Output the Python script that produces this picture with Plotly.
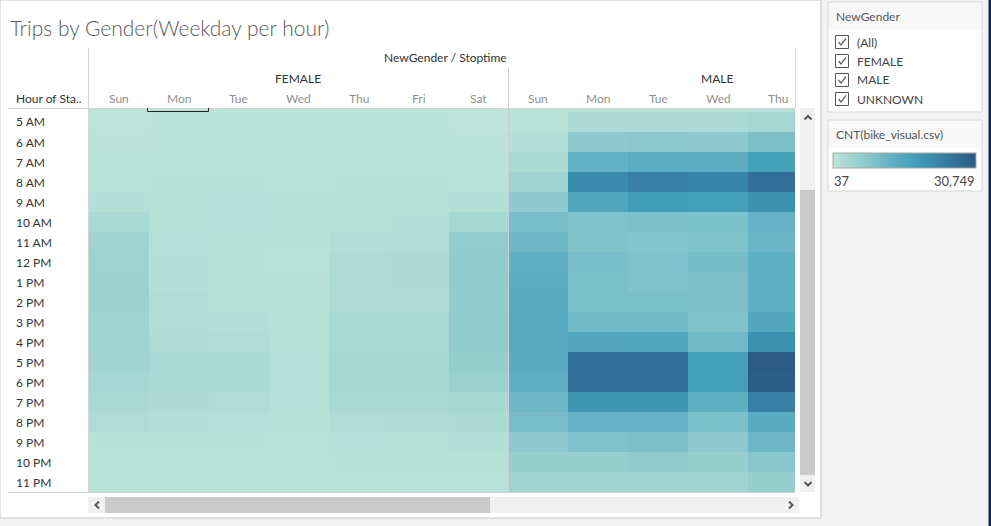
import plotly.graph_objects as go

W, H = 991, 526

hours = ["4 AM", "5 AM", "6 AM", "7 AM", "8 AM", "9 AM", "10 AM", "11 AM", "12 PM",
         "1 PM", "2 PM", "3 PM", "4 PM", "5 PM", "6 PM", "7 PM", "8 PM", "9 PM",
         "10 PM", "11 PM"]
female_days = ["Sun", "Mon", "Tue", "Wed", "Thu", "Fri", "Sat"]
male_days = ["Sun", "Mon", "Tue", "Wed", "Thu"]

# CNT(bike_visual.csv) per hour (rows 4 AM .. 11 PM)
female_sun = [60, 100, 200, 300, 600, 1500, 3000, 4500, 4800, 5000, 5000, 4700, 4700, 4200, 3700, 3000, 2000, 900, 500, 300]
female_mon = [60, 150, 300, 450, 750, 1200, 1200, 1050, 1500, 1500, 1800, 1950, 2100, 3000, 3000, 2400, 1650, 900, 600, 300]
female_tue = [60, 150, 300, 600, 900, 1050, 1050, 900, 750, 900, 1200, 1500, 1800, 2700, 2700, 1950, 1050, 750, 450, 300]
female_wed = [60, 150, 300, 450, 600, 750, 750, 750, 600, 750, 900, 900, 900, 1050, 1050, 1050, 900, 600, 450, 300]
female_thu = [60, 150, 300, 600, 900, 1200, 1200, 1800, 2100, 2250, 2100, 2700, 2700, 3450, 3450, 3000, 1950, 1050, 750, 450]
female_fri = [60, 150, 300, 600, 900, 1200, 1500, 1950, 2400, 2400, 2250, 3000, 3000, 3450, 3450, 3000, 2100, 1200, 900, 600]
female_sat = [37, 80, 150, 300, 600, 1500, 3300, 6300, 6600, 6500, 6500, 6500, 6500, 5800, 5200, 3450, 2400, 1500, 900, 600]

male_sun = [300, 600, 1300, 2700, 4500, 7000, 9600, 11100, 12800, 13800, 14000, 14500, 14500, 14000, 12800, 11000, 9600, 7000, 5700, 4200]
male_mon = [900, 2400, 7000, 12300, 21200, 15500, 8600, 8300, 9600, 9400, 9400, 10600, 15200, 26300, 26300, 19400, 12100, 8600, 6000, 4200]
male_tue = [900, 2400, 7300, 13800, 23300, 17800, 9000, 8100, 8600, 8600, 9400, 10600, 15500, 26300, 26300, 19400, 12100, 9000, 6800, 4200]
male_wed = [900, 2400, 7000, 13500, 22400, 17400, 9100, 8600, 9900, 9000, 9000, 8600, 10600, 17400, 17400, 13000, 9100, 7000, 5700, 4200]
male_thu = [1000, 3500, 9000, 17400, 26700, 20300, 12100, 11300, 13000, 13000, 13000, 15100, 20300, 30300, 29900, 23300, 14100, 11000, 7700, 5700]

cnt_min, cnt_max = 37, 30749

columns = [("FEMALE", d, v) for d, v in zip(female_days, [female_sun, female_mon, female_tue, female_wed, female_thu, female_fri, female_sat])]
columns += [("MALE", d, v) for d, v in zip(male_days, [male_sun, male_mon, male_tue, male_wed, male_thu])]

xkeys = [f"{g} {d}" for g, d, _ in columns]
z = [[col[2][r] for col in columns] for r in range(len(hours))]

colorscale = [[0.0, "#bce4d8"], [0.2, "#93cdcf"], [0.4, "#63b1c4"],
              [0.6, "#3e9bb7"], [0.8, "#3679a2"], [1.0, "#2c5985"]]


def px(x):
    return x / W


def py(y):
    return 1 - y / H


FONT = "Lato"

fig = go.Figure()
fig.add_trace(go.Heatmap(
    x=xkeys, y=hours, z=z, zmin=cnt_min, zmax=cnt_max,
    colorscale=colorscale, xgap=0, ygap=0,
    colorbar=dict(orientation="h", x=px(833), xanchor="left", y=py(161.5), yanchor="middle",
                  len=143, lenmode="pixels", thickness=15, thicknessmode="pixels",
                  outlinewidth=1, outlinecolor="#a8a8a0", showticklabels=False, ticks="",
                  xpad=0, ypad=0),
    hovertemplate="%{x}<br>%{y}<br>%{z}<extra></extra>",
))

shapes = []
annotations = []


def rect(x0, y0, x1, y1, fill, line=None, lw=1):
    shapes.append(dict(type="rect", xref="paper", yref="paper", x0=px(x0), x1=px(x1), y0=py(y0), y1=py(y1),
                       fillcolor=fill, line=dict(color=line or fill, width=lw if line else 0), layer="below"))


def hline(x0, x1, y, color="#d4d4d4", w=1, layer="above"):
    shapes.append(dict(type="line", xref="paper", yref="paper", x0=px(x0), x1=px(x1), y0=py(y), y1=py(y),
                       line=dict(color=color, width=w), layer=layer))


def vline(x, y0, y1, color="#d4d4d4", w=1, layer="above"):
    shapes.append(dict(type="line", xref="paper", yref="paper", x0=px(x), x1=px(x), y0=py(y0), y1=py(y1),
                       line=dict(color=color, width=w), layer=layer))


def path(points, color="#555555", w=2, fill=None):
    d = "M " + " L ".join(f"{px(a)},{py(b)}" for a, b in points)
    shapes.append(dict(type="path", xref="paper", yref="paper", path=d,
                       line=dict(color=color, width=w), fillcolor=fill, layer="above"))


def text(x, y, s, size=12, color="#333333", anchor="left", family=FONT, weight="normal"):
    annotations.append(dict(xref="paper", yref="paper", x=px(x), y=py(y), text=s, showarrow=False,
                            xanchor=anchor, yanchor="middle",
                            font=dict(family=family, size=size, color=color, weight=weight)))


# main panel
rect(0, 0, 821, 518, "#ffffff", "#c6c6c6")
# right edge
rect(988.5, 0, 991, 526, "#0c2a56")

# table lines
vline(88.5, 48, 492)
hline(8, 795, 108.5)
vline(508.5, 68, 492, color="#cfcfcf")
vline(795.5, 48, 108)
hline(8, 795, 492.5)

# selected header bracket (Mon)
path([(147.5, 108), (147.5, 111.5), (208.5, 111.5), (208.5, 108)], color="#222222", w=1)

# vertical scrollbar
rect(800, 108, 815, 492, "#f0f0f0")
rect(800, 190, 815, 475, "#cacaca")
path([(804.5, 119.5), (808, 116), (811.5, 119.5)], color="#555555", w=2)
path([(804.5, 482), (808, 485.5), (811.5, 482)], color="#555555", w=2)

# horizontal scrollbar
rect(88, 497, 799, 513, "#f0f0f0")
rect(105, 497, 490, 513, "#cacaca")
path([(99, 501.5), (95.5, 505), (99, 508.5)], color="#555555", w=2)
path([(789, 501.5), (792.5, 505), (789, 508.5)], color="#555555", w=2)

# filter card
rect(828, 2, 982, 112, "#ffffff", "#d6d6d6")
rect(829, 3, 981, 30, "#f8f8f8")
text(834, 16, "NewGender", size=12, color="#555555")
filter_items = ["(All)", "FEMALE", "MALE", "UNKNOWN"]
for i, item in enumerate(filter_items):
    cy = 42 + i * 19
    shapes.append(dict(type="rect", xref="paper", yref="paper", x0=px(835.5), x1=px(848.5),
                       y0=py(cy - 6.5), y1=py(cy + 6.5), fillcolor="#ffffff",
                       line=dict(color="#555555", width=1), layer="above"))
    path([(838.5, cy), (841, cy + 3), (846, cy - 3.5)], color="#666666", w=1.3)
    text(855, cy, item, size=12, color="#444444")

# color legend card
rect(828, 120, 982, 191, "#ffffff", "#d6d6d6")
rect(829, 121, 981, 148, "#f8f8f8")
text(834, 135, "CNT(bike_visual.csv)", size=12, color="#555555")
text(832, 181, f"{cnt_min}", size=13, color="#444444")
text(977, 181, f"{cnt_max:,}", size=13, color="#444444", anchor="right")

# titles and headers
text(8, 27, "Trips by Gender(Weekday per hour)", size=21, color="#5a5a5a", weight=300)
text(445, 58, "NewGender / Stoptime", size=12, color="#333333", anchor="center")
text(298, 78, "FEMALE", size=12, color="#333333", anchor="center")
text(717, 78, "MALE", size=12, color="#333333", anchor="center")
text(14, 98, "Hour of Sta..", size=12, color="#333333")

for key, (g, d, _) in zip(xkeys, columns):
    annotations.append(dict(xref="x", yref="paper", x=key, y=py(98), text=d, showarrow=False,
                            xanchor="center", yanchor="middle",
                            font=dict(family=FONT, size=12, color="#8f8f8f")))

for h in hours[1:]:
    annotations.append(dict(xref="paper", yref="y", x=px(14), y=h, text=h, showarrow=False,
                            xanchor="left", yanchor="middle",
                            font=dict(family=FONT, size=12, color="#333333")))

fig.update_layout(
    width=W, height=H, margin=dict(l=0, r=0, t=0, b=0),
    paper_bgcolor="#f3f3f3", plot_bgcolor="#ffffff",
    font=dict(family=FONT),
    xaxis=dict(domain=[px(89), px(795)], range=[-0.5, 11.28], showticklabels=False,
               showgrid=False, zeroline=False, ticks=""),
    yaxis=dict(domain=[py(492), py(108)], range=[19.5, 0.3], showticklabels=False,
               showgrid=False, zeroline=False, ticks=""),
    shapes=shapes, annotations=annotations, showlegend=False,
)

fig.write_html("out.html")
